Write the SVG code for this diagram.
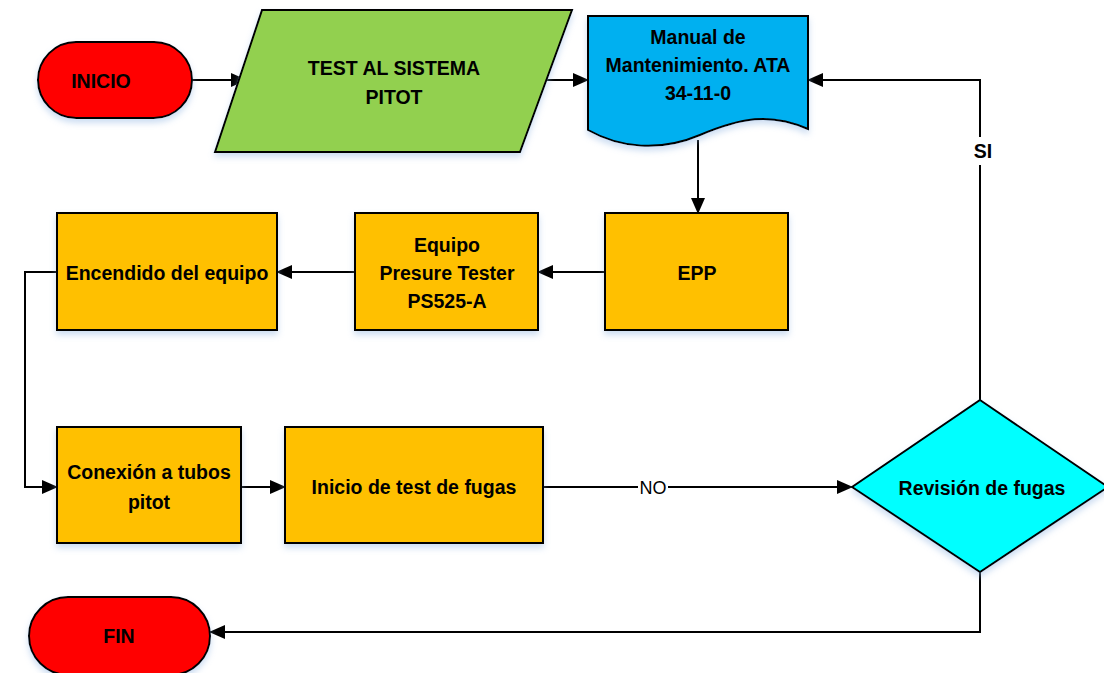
<svg xmlns="http://www.w3.org/2000/svg" width="1104" height="673" viewBox="0 0 1104 673">
  <style>
    .shape { stroke: #000; stroke-width: 2; }
    .term { fill: #FF0000; }
    .io { fill: #92D050; }
    .doc { fill: #00B0F0; }
    .proc { fill: #FFC000; }
    .dec { fill: #00FFFF; }
    .lbl { font-family: "Liberation Sans", Arial, sans-serif; font-weight: bold; font-size: 19.5px; fill: #000; text-anchor: middle; dominant-baseline: central; }
    .edge { fill: none; stroke: #000; stroke-width: 2; }
    .elbl { font-family: "Liberation Sans", Arial, sans-serif; font-size: 18px; fill: #000; text-anchor: middle; dominant-baseline: central; }
  </style>
  <defs>
    <marker id="arrow" markerUnits="userSpaceOnUse" markerWidth="16" markerHeight="14" refX="15" refY="7" orient="auto">
      <path d="M0,0 L16,7 L0,14 Z" fill="#000"/>
    </marker>
    <filter id="glow" x="-10%" y="-10%" width="120%" height="130%">
      <feGaussianBlur in="SourceAlpha" stdDeviation="3"/>
      <feOffset dx="0" dy="4" result="b"/>
      <feFlood flood-color="#8fb4e3" flood-opacity="0.45"/>
      <feComposite in2="b" operator="in"/>
      <feMerge><feMergeNode/><feMergeNode in="SourceGraphic"/></feMerge>
    </filter>
  </defs>

  <!-- connectors -->
  <g id="connectors">
    <line class="edge" x1="192" y1="80" x2="246" y2="80" marker-end="url(#arrow)"/>
    <line class="edge" x1="537" y1="80" x2="588" y2="80" marker-end="url(#arrow)"/>
    <line class="edge" x1="698" y1="140" x2="698" y2="213" marker-end="url(#arrow)"/>
    <line class="edge" x1="605" y1="272" x2="538" y2="272" marker-end="url(#arrow)"/>
    <line class="edge" x1="355" y1="272" x2="277" y2="272" marker-end="url(#arrow)"/>
    <polyline class="edge" points="57,272 25,272 25,487 57,487" marker-end="url(#arrow)"/>
    <line class="edge" x1="241" y1="487" x2="285" y2="487" marker-end="url(#arrow)"/>
    <line class="edge" x1="543" y1="487" x2="852" y2="487" marker-end="url(#arrow)"/>
    <rect x="638" y="476" width="30" height="22" fill="#fff"/>
    <text class="elbl" x="653" y="488">NO</text>
    <polyline class="edge" points="980,400 980,80 808,80" marker-end="url(#arrow)"/>
    <rect x="968" y="137" width="30" height="28" fill="#fff"/>
    <text class="lbl" x="983" y="151">SI</text>
    <polyline class="edge" points="980,572 980,632 210,632" marker-end="url(#arrow)"/>
  </g>

  <g id="inicio">
    <rect class="shape term" x="38" y="42" width="154" height="76" rx="38" ry="38" filter="url(#glow)"/>
    <text class="lbl" x="101" y="81">INICIO</text>
  </g>

  <g id="test-sistema">
    <polygon class="shape io" points="262,10 572,10 520,152 215,152" filter="url(#glow)"/>
    <text class="lbl" x="394" y="68">TEST AL SISTEMA</text>
    <text class="lbl" x="394" y="97">PITOT</text>
  </g>

  <g id="manual">
    <path class="shape doc" d="M588,16 H808 V129 C770,112 740,118 700,135 C660,152 620,148 588,130 Z" filter="url(#glow)"/>
    <text class="lbl" x="698" y="37">Manual de</text>
    <text class="lbl" x="698" y="65">Mantenimiento. ATA</text>
    <text class="lbl" x="698" y="93">34-11-0</text>
  </g>

  <g id="epp">
    <rect class="shape proc" x="605" y="213" width="183" height="117" filter="url(#glow)"/>
    <text class="lbl" x="697" y="273">EPP</text>
  </g>

  <g id="equipo">
    <rect class="shape proc" x="355" y="213" width="183" height="117" filter="url(#glow)"/>
    <text class="lbl" x="447" y="245">Equipo</text>
    <text class="lbl" x="447" y="273">Presure Tester</text>
    <text class="lbl" x="447" y="301">PS525-A</text>
  </g>

  <g id="encendido">
    <rect class="shape proc" x="57" y="213" width="220" height="117" filter="url(#glow)"/>
    <text class="lbl" x="167" y="273">Encendido del equipo</text>
  </g>

  <g id="conexion">
    <rect class="shape proc" x="57" y="427" width="184" height="116" filter="url(#glow)"/>
    <text class="lbl" x="149" y="472">Conexión a tubos</text>
    <text class="lbl" x="149" y="502">pitot</text>
  </g>

  <g id="inicio-test">
    <rect class="shape proc" x="285" y="427" width="258" height="116" filter="url(#glow)"/>
    <text class="lbl" x="414" y="487">Inicio de test de fugas</text>
  </g>

  <g id="revision">
    <polygon class="shape dec" points="980,400 1108,487 980,572 852,487" filter="url(#glow)"/>
    <text class="lbl" x="982" y="488">Revisión de fugas</text>
  </g>

  <g id="fin">
    <rect class="shape term" x="29" y="597" width="181" height="78" rx="39" ry="39" filter="url(#glow)"/>
    <text class="lbl" x="119" y="636">FIN</text>
  </g>
</svg>
